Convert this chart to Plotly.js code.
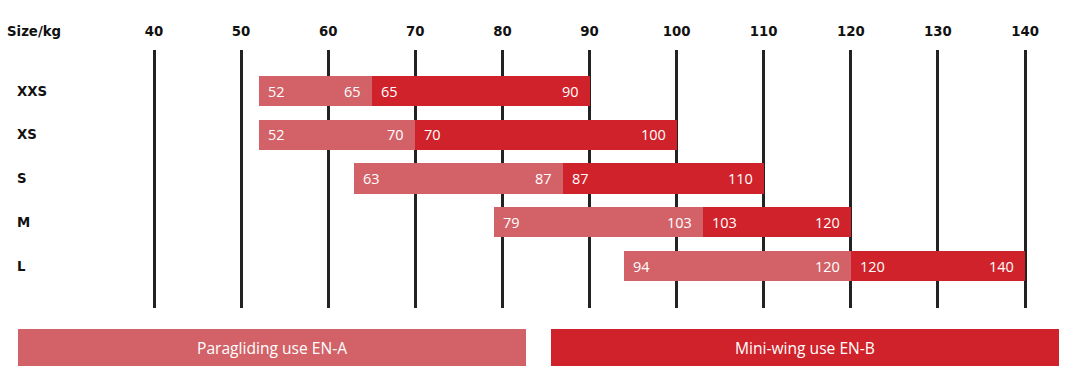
<!DOCTYPE html>
<html>
<head>
<meta charset="utf-8">
<script src="https://cdn.plot.ly/plotly-3.0.1.min.js"></script>
<style>html,body{margin:0;padding:0;background:#fff;}#chart{width:1078px;height:384px;}</style>
</head>
<body>
<div id="chart"></div>
<script>
// ---- data ----
const tickValues = [40, 50, 60, 70, 80, 90, 100, 110, 120, 130, 140];
const sizes = ['XXS', 'XS', 'S', 'M', 'L'];
const enaStart = [52, 52, 63, 79, 94];
const enaEnd = [65, 70, 87, 103, 120];
const enbStart = [65, 70, 87, 103, 120];
const enbEnd = [90, 100, 110, 120, 140];
const legendLabels = ['Paragliding use EN-A', 'Mini-wing use EN-B'];
const axisLabel = 'Size/kg';

// ---- style ----
const W = 1078, H = 384;
const mT = 50, mB = 76;
const plotH = H - mT - mB;
const pink = '#d26268';
const red = '#d0222a';
const boldFont = {family: 'DejaVu Sans, sans-serif', size: 13.3, color: '#111', weight: 700};
const valFont = {family: 'Open Sans, sans-serif', size: 14.5, color: '#fff'};

const barWidth = 0.686;

function diff(a, b) { return a.map((v, i) => v - b[i]); }

const traces = [
  {type: 'bar', orientation: 'h', y: sizes, x: diff(enaEnd, enaStart), base: enaStart,
   width: barWidth, marker: {color: pink, line: {width: 0}}, hoverinfo: 'none', showlegend: false},
  {type: 'bar', orientation: 'h', y: sizes, x: diff(enbEnd, enbStart), base: enbStart,
   width: barWidth, marker: {color: red, line: {width: 0}}, hoverinfo: 'none', showlegend: false}
];

const annotations = [];
function addVals(starts, ends) {
  starts.forEach((s, i) => {
    annotations.push({x: s, y: sizes[i], xref: 'x', yref: 'y', text: String(s), showarrow: false,
      xanchor: 'left', yanchor: 'middle', xshift: 7, font: valFont});
    annotations.push({x: ends[i], y: sizes[i], xref: 'x', yref: 'y', text: String(ends[i]), showarrow: false,
      xanchor: 'right', yanchor: 'middle', xshift: -9, font: valFont});
  });
}
addVals(enaStart, enaEnd);
addVals(enbStart, enbEnd);

sizes.forEach(s => {
  annotations.push({x: 15 / W, y: s, xref: 'paper', yref: 'y', text: s, showarrow: false,
    xanchor: 'left', yanchor: 'middle', font: boldFont});
});

annotations.push({x: 5 / W, y: 1 + (mT - 31) / plotH, xref: 'paper', yref: 'paper', text: axisLabel,
  showarrow: false, xanchor: 'left', yanchor: 'middle', font: boldFont});

// legend boxes
const boxes = [[18, 526, pink], [551, 1059, red]];
const boxTop = 329, boxBot = 366;
const shapes = [];
boxes.forEach((b, i) => {
  shapes.push({type: 'rect', xref: 'paper', yref: 'paper', x0: b[0] / W, x1: b[1] / W,
    y0: -(boxTop - (H - mB)) / plotH, y1: -(boxBot - (H - mB)) / plotH,
    fillcolor: b[2], line: {width: 0}, layer: 'above'});
  annotations.push({x: (b[0] + b[1]) / 2 / W, y: -((boxTop + boxBot) / 2 - (H - mB)) / plotH,
    xref: 'paper', yref: 'paper', text: legendLabels[i], showarrow: false,
    xanchor: 'center', yanchor: 'middle', font: {family: 'Open Sans, sans-serif', size: 15.6, color: '#fff'}});
});

// x scale: 40 -> 154px, 10 units -> 87.1px
const pxPerUnit = 8.71;
const x0 = 40 - 154 / pxPerUnit;
const x1 = 40 + (W - 154) / pxPerUnit;

// y scale: category spacing 43.75px, XXS centre 41px below plot top
const sp = 43.75;
const yTop = -41 / sp;
const yBot = yTop + plotH / sp;

const layout = {
  width: W, height: H,
  margin: {l: 0, r: 0, t: mT, b: mB, pad: 0},
  paper_bgcolor: '#fff', plot_bgcolor: '#fff',
  barmode: 'overlay', bargap: 0,
  xaxis: {range: [x0, x1], side: 'top', tickmode: 'array', tickvals: tickValues,
    ticktext: tickValues.map(String), showgrid: true, gridcolor: '#222', gridwidth: 3,
    zeroline: false, showline: false, ticks: '', tickfont: boldFont, ticklabelstandoff: 10,
    fixedrange: true},
  yaxis: {type: 'category', categoryorder: 'array', categoryarray: sizes,
    range: [yBot, yTop], showgrid: false, zeroline: false, showline: false,
    showticklabels: false, ticks: '', fixedrange: true},
  shapes: shapes,
  annotations: annotations,
  showlegend: false
};

Plotly.newPlot('chart', traces, layout, {displayModeBar: false, staticPlot: true});
</script>
</body>
</html>
